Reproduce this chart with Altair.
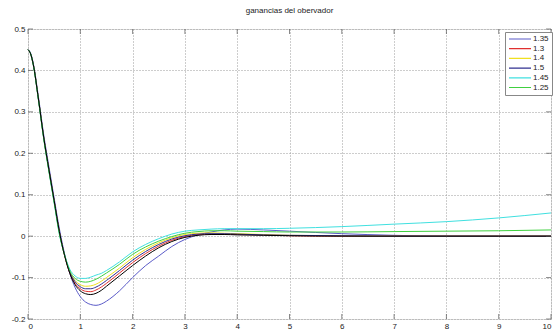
import altair as alt
import pandas as pd

t = [0, 0.05, 0.1, 0.2, 0.3, 0.4, 0.5, 0.6, 0.7, 0.8, 0.9, 1.0, 1.1, 1.2, 1.3, 1.4, 1.5,
     1.75, 2.0, 2.25, 2.5, 2.75, 3.0, 3.25, 3.5, 3.75, 4.0, 4.5, 5, 6, 7, 8, 9, 10]

g135 = [0.45, 0.442, 0.418, 0.336, 0.245, 0.168, 0.092, 0.018,
        -0.043, -0.090, -0.124, -0.146, -0.159, -0.165, -0.167, -0.164, -0.157,
        -0.132, -0.100, -0.071, -0.048, -0.025, -0.008, 0.003, 0.010, 0.015, 0.017,
        0.015, 0.012, 0.006, 0.002, 0.0, 0.0, 0.0]
g13 = [0.45, 0.44, 0.415, 0.33, 0.238, 0.16, 0.085, 0.01,
       -0.047, -0.089, -0.114, -0.127, -0.133, -0.134, -0.130, -0.123, -0.114,
       -0.089, -0.064, -0.042, -0.024, -0.010, -0.001, 0.004, 0.005, 0.005, 0.004,
       0.003, 0.001, 0.0, 0.0, 0.0, 0.0, 0.0]
g14 = [0.45, 0.44, 0.415, 0.33, 0.237, 0.158, 0.083, 0.008,
       -0.046, -0.086, -0.107, -0.117, -0.121, -0.120, -0.116, -0.109, -0.100,
       -0.077, -0.052, -0.032, -0.016, -0.004, 0.004, 0.007, 0.008, 0.007, 0.006,
       0.004, 0.002, 0.001, 0.0, 0.0, 0.0, 0.0]
g15 = [0.45, 0.44, 0.415, 0.33, 0.238, 0.159, 0.084, 0.009,
       -0.046, -0.087, -0.110, -0.122, -0.127, -0.127, -0.123, -0.116, -0.107,
       -0.083, -0.058, -0.037, -0.020, -0.007, 0.001, 0.005, 0.006, 0.006, 0.005,
       0.003, 0.002, 0.001, 0.0, 0.0, 0.0, 0.0]
g145 = [0.45, 0.44, 0.414, 0.328, 0.235, 0.156, 0.08, 0.004,
        -0.045, -0.080, -0.096, -0.102, -0.102, -0.099, -0.094, -0.090, -0.083,
        -0.062, -0.038, -0.020, -0.006, 0.005, 0.012, 0.015, 0.017, 0.018, 0.018,
        0.018, 0.019, 0.023, 0.029, 0.035, 0.044, 0.056]
g125 = [0.45, 0.44, 0.414, 0.329, 0.236, 0.157, 0.082, 0.006,
        -0.046, -0.084, -0.102, -0.109, -0.111, -0.109, -0.104, -0.097, -0.089,
        -0.068, -0.044, -0.026, -0.012, -0.001, 0.007, 0.011, 0.013, 0.013, 0.012,
        0.011, 0.010, 0.010, 0.011, 0.012, 0.013, 0.015]
g_black = [0.45, 0.44, 0.415, 0.331, 0.239, 0.161, 0.086, 0.011,
           -0.047, -0.090, -0.117, -0.132, -0.139, -0.141, -0.138, -0.131, -0.121,
           -0.096, -0.071, -0.048, -0.028, -0.013, -0.003, 0.002, 0.004, 0.004, 0.003,
           0.002, 0.001, 0.0, 0.0, 0.0, 0.0, 0.0]

labels = ["1.35", "1.3", "1.4", "1.5", "1.45", "1.25"]
colors = ["#5a5ac8", "#e03030", "#f0e020", "#303090", "#40e0e0", "#40d040"]
series = [g135, g13, g14, g15, g145, g125]

x_ticks = [0, 1, 2, 3, 4, 5, 6, 7, 8, 9, 10]
y_ticks = [-0.2, -0.1, 0, 0.1, 0.2, 0.3, 0.4, 0.5]

rows = []
for lab, vals in zip(labels, series):
    for i, (tt, vv) in enumerate(zip(t, vals)):
        rows.append({"t": tt, "v": vv, "serie": lab, "order": i})
df = pd.DataFrame(rows)
df_black = pd.DataFrame({"t": t, "v": g_black})

W, H = 523, 290
xs = alt.Scale(domain=[0, 10], nice=False)
ys = alt.Scale(domain=[-0.2, 0.5], nice=False)

xaxis = alt.Axis(values=x_ticks, grid=True, gridColor="#9a9a9a", gridDash=[1, 2],
                 domain=False, ticks=False, labelFontSize=8, labelColor="#222",
                 labelFont="Liberation Sans", labelFlush=True, labelPadding=3, title=None)
yaxis = alt.Axis(values=y_ticks, grid=True, gridColor="#9a9a9a", gridDash=[1, 2],
                 domain=False, ticks=False, labelFontSize=8, labelColor="#222",
                 labelFont="Liberation Sans", labelPadding=3, title=None,
                 labelExpr="datum.value == 0 ? '0' : toString(round(datum.value*10)/10)")

lines = alt.Chart(df).mark_line(strokeWidth=1, interpolate="monotone").encode(
    x=alt.X("t:Q", scale=xs, axis=xaxis),
    y=alt.Y("v:Q", scale=ys, axis=yaxis),
    color=alt.Color("serie:N", sort=labels,
                    scale=alt.Scale(domain=labels, range=colors),
                    legend=alt.Legend(orient="none", legendX=477, legendY=3, title=None,
                                      symbolType="stroke", symbolSize=484,
                                      symbolStrokeWidth=1.2, labelFontSize=8,
                                      labelFont="Liberation Sans", labelColor="#222",
                                      labelOffset=1, rowPadding=1.7, padding=3,
                                      clipHeight=8,
                                      strokeColor="#888", fillColor="white")),
    order="order:Q",
    detail="serie:N",
)

black = alt.Chart(df_black).mark_line(strokeWidth=1, interpolate="monotone", color="black").encode(
    x=alt.X("t:Q", scale=xs),
    y=alt.Y("v:Q", scale=ys),
)

tdf_x = pd.DataFrame({"t": x_ticks})
tdf_y = pd.DataFrame({"v": y_ticks})
tick_b = alt.Chart(tdf_x).mark_tick(orient="vertical", size=5, thickness=1, color="#555").encode(
    x=alt.X("t:Q", scale=xs), y=alt.value(H - 2.5))
tick_t = alt.Chart(tdf_x).mark_tick(orient="vertical", size=5, thickness=1, color="#555").encode(
    x=alt.X("t:Q", scale=xs), y=alt.value(2.5))
tick_l = alt.Chart(tdf_y).mark_tick(orient="horizontal", size=5, thickness=1, color="#555").encode(
    y=alt.Y("v:Q", scale=ys), x=alt.value(2.5))
tick_r = alt.Chart(tdf_y).mark_tick(orient="horizontal", size=5, thickness=1, color="#555").encode(
    y=alt.Y("v:Q", scale=ys), x=alt.value(W - 2.5))

chart = alt.layer(lines, black, tick_b, tick_t, tick_l, tick_r).properties(
    width=W, height=H,
    title=alt.TitleParams("ganancias del obervador", fontSize=8, fontWeight="normal",
                          font="Liberation Sans", color="#222", offset=10, anchor="middle"),
    autosize=alt.AutoSizeParams(type="none"),
    padding={"left": 28, "top": 29, "right": 5, "bottom": 10},
).configure_view(stroke="#808080", strokeWidth=1).configure(background="white")

chart.save("out.html", embed_options={"renderer": "svg", "actions": False})
